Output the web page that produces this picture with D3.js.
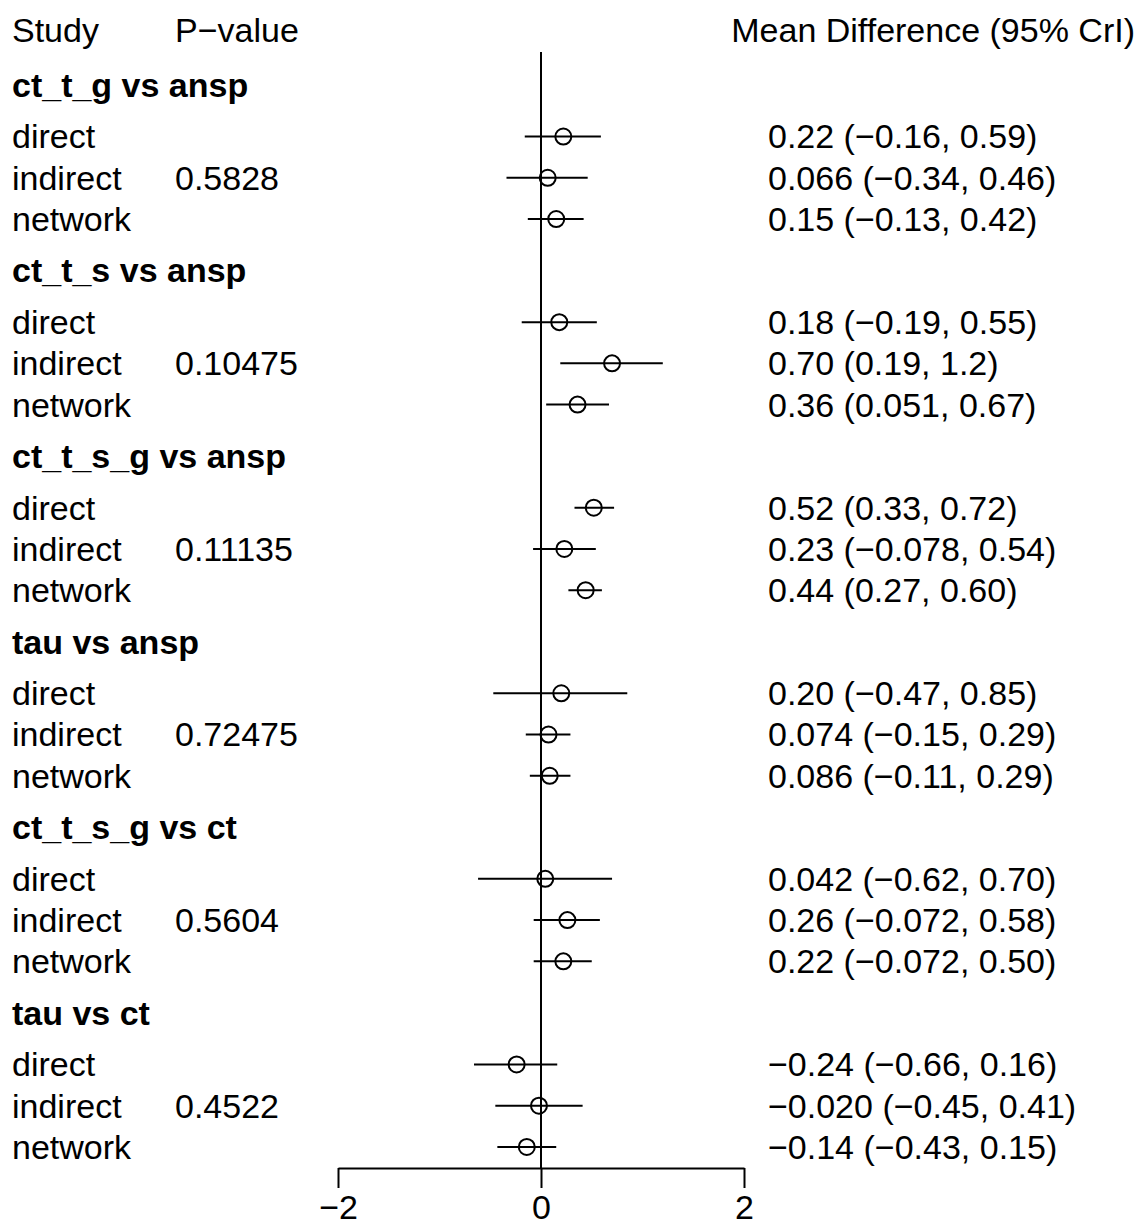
<!DOCTYPE html>
<html>
<head>
<meta charset="utf-8">
<script src="https://cdn.jsdelivr.net/npm/d3@7"></script>
<style>
  body { margin: 0; background: #fff; }
  text { font-family: "Liberation Sans", Arial, Helvetica, sans-serif; fill: #000; }
</style>
</head>
<body>
<div id="chart"></div>
<script>
const comparisons = ["ct_t_g vs ansp", "ct_t_s vs ansp", "ct_t_s_g vs ansp", "tau vs ansp", "ct_t_s_g vs ct", "tau vs ct"];
const sources = ["direct", "indirect", "network"];
const pValues = ["0.5828", "0.10475", "0.11135", "0.72475", "0.5604", "0.4522"];

// one row of [direct, indirect, network] per comparison
const means = [
  [0.22, 0.066, 0.15],
  [0.18, 0.70, 0.36],
  [0.52, 0.23, 0.44],
  [0.20, 0.074, 0.086],
  [0.042, 0.26, 0.22],
  [-0.24, -0.020, -0.14]
];
const lowers = [
  [-0.16, -0.34, -0.13],
  [-0.19, 0.19, 0.051],
  [0.33, -0.078, 0.27],
  [-0.47, -0.15, -0.11],
  [-0.62, -0.072, -0.072],
  [-0.66, -0.45, -0.43]
];
const uppers = [
  [0.59, 0.46, 0.42],
  [0.55, 1.2, 0.67],
  [0.72, 0.54, 0.60],
  [0.85, 0.29, 0.29],
  [0.70, 0.58, 0.50],
  [0.16, 0.41, 0.15]
];
const xTicks = [-2, 0, 2];

const width = 1138, height = 1221;
const fontSize = 34;
const fmt = d3.format(".2r");

const svg = d3.select("#chart").append("svg")
  .attr("width", width)
  .attr("height", height);

const x = d3.scaleLinear().domain([-2, 2]).range([338, 744]);
// y in "line units": group header g at g*4.5, its rows at g*4.5 + 1.25 + i
const y = d3.scaleLinear().domain([0, 1]).range([85, 85 + 41.24]);

const rows = [];
comparisons.forEach((c, g) => {
  sources.forEach((s, i) => {
    rows.push({
      g, i, source: s,
      mean: means[g][i], lo: lowers[g][i], hi: uppers[g][i],
      u: g * 4.5 + 1.25 + i
    });
  });
});

// column headers
const header = svg.append("g").attr("font-size", fontSize);
header.append("text").attr("x", 12).attr("y", y(-1.32)).attr("dy", "0.35em").text("Study");
header.append("text").attr("x", 175).attr("y", y(-1.32)).attr("dy", "0.35em").text("P\u2212value");
header.append("text").attr("x", 1135).attr("y", y(-1.32)).attr("dy", "0.35em")
  .attr("text-anchor", "end").text("Mean Difference (95% CrI)");

// group headers
svg.append("g").selectAll("text")
  .data(comparisons)
  .join("text")
  .attr("x", 12)
  .attr("y", (d, g) => y(g * 4.5))
  .attr("dy", "0.35em")
  .attr("font-size", fontSize)
  .attr("font-weight", "bold")
  .text(d => d);

// study labels
svg.append("g").selectAll("text")
  .data(rows)
  .join("text")
  .attr("x", 12)
  .attr("y", d => y(d.u))
  .attr("dy", "0.35em")
  .attr("font-size", fontSize)
  .text(d => d.source);

// p-values on the indirect row
svg.append("g").selectAll("text")
  .data(pValues)
  .join("text")
  .attr("x", 175)
  .attr("y", (d, g) => y(g * 4.5 + 2.25))
  .attr("dy", "0.35em")
  .attr("font-size", fontSize)
  .text(d => d);

// estimate text
svg.append("g").selectAll("text")
  .data(rows)
  .join("text")
  .attr("x", 768)
  .attr("y", d => y(d.u))
  .attr("dy", "0.35em")
  .attr("font-size", fontSize)
  .text(d => `${fmt(d.mean)} (${fmt(d.lo)}, ${fmt(d.hi)})`);

// axis
const axisY = 1168;
const axis = svg.append("g")
  .attr("transform", `translate(0,${axisY})`)
  .call(d3.axisBottom(x).tickValues(xTicks).tickSize(20).tickSizeOuter(0).tickPadding(7)
    .tickFormat(d => d3.format("")(d)));
axis.select(".domain").attr("stroke", "#000").attr("stroke-width", 2);
axis.selectAll(".tick line").attr("stroke", "#000").attr("stroke-width", 2);
axis.selectAll(".tick text").attr("font-size", fontSize).attr("font-family", "Liberation Sans, Arial, sans-serif");

// reference line at zero
svg.append("line")
  .attr("x1", x(0)).attr("x2", x(0))
  .attr("y1", 52).attr("y2", axisY)
  .attr("stroke", "#000").attr("stroke-width", 2);

// intervals
svg.append("g").selectAll("line")
  .data(rows)
  .join("line")
  .attr("x1", d => x(d.lo))
  .attr("x2", d => x(d.hi))
  .attr("y1", d => y(d.u))
  .attr("y2", d => y(d.u))
  .attr("stroke", "#000")
  .attr("stroke-width", 2);

// point estimates
svg.append("g").selectAll("circle")
  .data(rows)
  .join("circle")
  .attr("cx", d => x(d.mean))
  .attr("cy", d => y(d.u))
  .attr("r", 8)
  .attr("fill", "none")
  .attr("stroke", "#000")
  .attr("stroke-width", 2);
</script>
</body>
</html>
